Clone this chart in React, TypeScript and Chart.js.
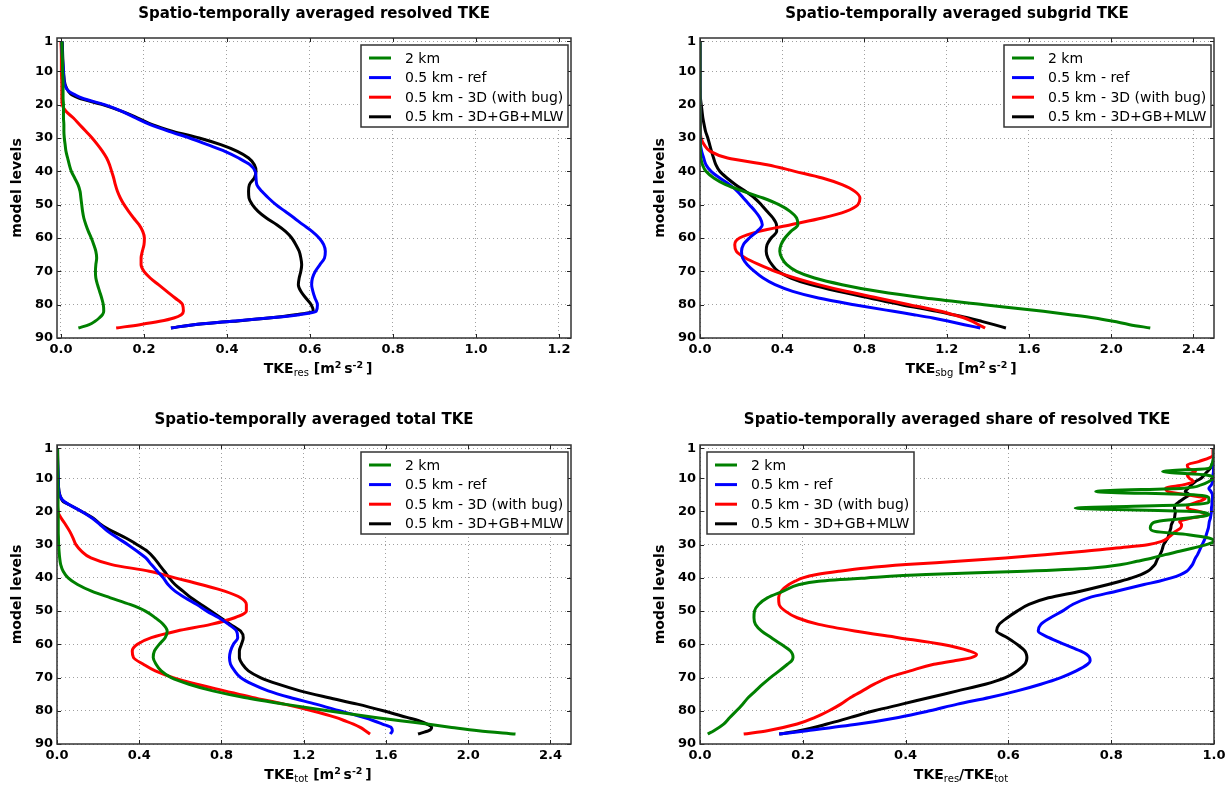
import React, { useEffect, useRef } from "react";
import { Chart, registerables } from "chart.js";

Chart.register(...registerables);

const FONT = '"DejaVu Sans", "Liberation Sans", sans-serif';

const SERIES_LABELS = ["2 km", "0.5 km - ref", "0.5 km - 3D (with bug)", "0.5 km - 3D+GB+MLW"];
const SERIES_COLORS = ["#008000", "#0000ff", "#ff0000", "#000000"];

const Y_TICKS = [1, 10, 20, 30, 40, 50, 60, 70, 80, 90];
const X_TICKS_RES = [0, 0.2, 0.4, 0.6, 0.8, 1.0, 1.2];
const X_TICKS_TKE = [0, 0.4, 0.8, 1.2, 1.6, 2.0, 2.4];
const X_TICKS_SHARE = [0, 0.2, 0.4, 0.6, 0.8, 1.0];

// model levels used for the three TKE panels
const LEVELS = [1, 5, 10, 14, 16, 17, 18, 20, 22, 24, 26, 28, 30, 32, 34, 36, 38, 40, 42, 44, 46, 48, 50, 52, 54, 56, 58, 60, 62, 64, 66, 68, 70, 72, 74, 76, 78, 80, 82, 83, 84, 85, 86, 87];

// resolved TKE
const RES_2KM = [0.002, 0.003, 0.004, 0.005, 0.005, 0.005, 0.005, 0.006, 0.006, 0.006, 0.007, 0.007, 0.008, 0.01, 0.012, 0.016, 0.02, 0.025, 0.033, 0.041, 0.046, 0.048, 0.05, 0.052, 0.055, 0.06, 0.066, 0.073, 0.079, 0.084, 0.086, 0.084, 0.083, 0.084, 0.088, 0.093, 0.098, 0.102, 0.103, 0.1, 0.092, 0.082, 0.068, 0.042];
const RES_REF = [0.002, 0.003, 0.006, 0.009, 0.019, 0.033, 0.05, 0.105, 0.147, 0.18, 0.215, 0.26, 0.31, 0.353, 0.395, 0.428, 0.455, 0.468, 0.47, 0.472, 0.484, 0.5, 0.518, 0.54, 0.562, 0.583, 0.605, 0.622, 0.633, 0.637, 0.635, 0.624, 0.613, 0.606, 0.604, 0.607, 0.612, 0.618, 0.615, 0.575, 0.5, 0.413, 0.32, 0.265];
const RES_3D = [0.0, 0.001, 0.001, 0.002, 0.002, 0.002, 0.002, 0.003, 0.012, 0.03, 0.045, 0.06, 0.075, 0.088, 0.1, 0.11, 0.117, 0.122, 0.127, 0.131, 0.136, 0.143, 0.152, 0.163, 0.175, 0.188, 0.197, 0.201, 0.2, 0.196, 0.193, 0.193, 0.2, 0.215, 0.235, 0.255, 0.275, 0.293, 0.295, 0.29, 0.272, 0.238, 0.19, 0.133];
const RES_GB = [0.003, 0.004, 0.006, 0.01, 0.018, 0.026, 0.043, 0.1, 0.147, 0.185, 0.22, 0.27, 0.333, 0.385, 0.425, 0.452, 0.466, 0.47, 0.466, 0.454, 0.452, 0.453, 0.461, 0.475, 0.495, 0.52, 0.541, 0.556, 0.566, 0.574, 0.578, 0.58, 0.578, 0.574, 0.572, 0.578, 0.59, 0.603, 0.608, 0.565, 0.5, 0.413, 0.32, 0.265];

// subgrid TKE
const SBG_2KM = [0, 0, 0, 0, 0, 0, 0, 0, 0, 0, 0, 0, 0, 0.001, 0.002, 0.004, 0.012, 0.029, 0.067, 0.125, 0.211, 0.307, 0.384, 0.438, 0.47, 0.476, 0.442, 0.413, 0.394, 0.388, 0.398, 0.422, 0.47, 0.557, 0.691, 0.864, 1.094, 1.382, 1.67, 1.8, 1.92, 2.01, 2.09, 2.19];
const SBG_REF = [0, 0, 0, 0, 0, 0, 0, 0, 0, 0, 0, 0, 0.001, 0.002, 0.008, 0.018, 0.029, 0.054, 0.096, 0.144, 0.182, 0.211, 0.24, 0.269, 0.292, 0.303, 0.278, 0.24, 0.211, 0.202, 0.207, 0.23, 0.265, 0.307, 0.365, 0.451, 0.576, 0.749, 0.941, 1.04, 1.133, 1.21, 1.286, 1.363];
const SBG_3D = [0, 0, 0, 0, 0, 0, 0, 0.001, 0.001, 0.001, 0.002, 0.002, 0.005, 0.02, 0.05, 0.134, 0.326, 0.461, 0.595, 0.691, 0.753, 0.778, 0.768, 0.71, 0.595, 0.442, 0.288, 0.192, 0.169, 0.177, 0.221, 0.288, 0.365, 0.461, 0.576, 0.71, 0.864, 1.018, 1.171, 1.23, 1.286, 1.325, 1.354, 1.387];
const SBG_GB = [0, 0, 0, 0, 0.001, 0.001, 0.002, 0.006, 0.01, 0.014, 0.02, 0.027, 0.038, 0.047, 0.056, 0.066, 0.077, 0.096, 0.131, 0.173, 0.221, 0.265, 0.298, 0.326, 0.355, 0.372, 0.373, 0.346, 0.326, 0.322, 0.33, 0.35, 0.38, 0.442, 0.538, 0.672, 0.826, 0.98, 1.152, 1.23, 1.306, 1.37, 1.43, 1.488];

// total TKE
const TOT_2KM = [0.002, 0.003, 0.004, 0.005, 0.005, 0.005, 0.005, 0.006, 0.006, 0.006, 0.006, 0.007, 0.008, 0.01, 0.013, 0.018, 0.03, 0.054, 0.1, 0.168, 0.26, 0.355, 0.43, 0.478, 0.517, 0.536, 0.526, 0.497, 0.474, 0.468, 0.482, 0.507, 0.555, 0.642, 0.758, 0.912, 1.105, 1.317, 1.548, 1.67, 1.8, 1.92, 2.05, 2.23];
const TOT_REF = [0.002, 0.003, 0.006, 0.009, 0.02, 0.035, 0.06, 0.12, 0.17, 0.21, 0.247, 0.295, 0.345, 0.39, 0.432, 0.459, 0.488, 0.517, 0.54, 0.574, 0.623, 0.68, 0.729, 0.787, 0.835, 0.873, 0.879, 0.858, 0.844, 0.839, 0.844, 0.864, 0.893, 0.95, 1.027, 1.134, 1.259, 1.374, 1.49, 1.54, 1.583, 1.625, 1.631, 1.621];
const TOT_3D = [0, 0.001, 0.001, 0.002, 0.002, 0.002, 0.002, 0.004, 0.02, 0.042, 0.062, 0.078, 0.092, 0.12, 0.165, 0.266, 0.449, 0.574, 0.7, 0.815, 0.893, 0.921, 0.921, 0.864, 0.748, 0.584, 0.459, 0.391, 0.366, 0.372, 0.42, 0.478, 0.565, 0.68, 0.815, 0.95, 1.105, 1.24, 1.355, 1.4, 1.442, 1.475, 1.5, 1.523];
const TOT_GB = [0.003, 0.004, 0.006, 0.01, 0.02, 0.03, 0.06, 0.12, 0.175, 0.215, 0.27, 0.335, 0.39, 0.44, 0.472, 0.497, 0.522, 0.546, 0.574, 0.613, 0.652, 0.7, 0.748, 0.796, 0.844, 0.893, 0.906, 0.897, 0.887, 0.887, 0.902, 0.931, 0.989, 1.076, 1.182, 1.317, 1.461, 1.587, 1.702, 1.76, 1.8, 1.822, 1.808, 1.756];

// share of resolved TKE (finer level sampling)
const SHARE_LEVELS = [1, 3, 5, 6, 7, 8, 9, 10, 11, 12, 13, 14, 15, 16, 17, 18, 19, 20, 21, 22, 23, 24, 25, 26, 27, 28, 29, 30, 31, 32, 33, 34, 35, 36, 37, 38, 39, 40, 41, 42, 44, 46, 48, 50, 52, 54, 56, 58, 60, 62, 63, 64, 65, 66, 68, 70, 72, 74, 76, 78, 80, 82, 84, 86, 87];
const SHARE_2KM = [1.0, 1.0, 0.998, 0.995, 0.99, 0.9, 0.985, 0.998, 0.99, 0.975, 0.94, 0.77, 0.96, 0.99, 0.99, 0.95, 0.73, 0.96, 0.99, 0.95, 0.89, 0.878, 0.876, 0.885, 0.95, 0.99, 1.0, 0.985, 0.96, 0.933, 0.905, 0.88, 0.85, 0.82, 0.763, 0.632, 0.44, 0.324, 0.231, 0.193, 0.162, 0.131, 0.114, 0.106, 0.105, 0.108, 0.12, 0.139, 0.158, 0.176, 0.18, 0.181, 0.178, 0.17, 0.154, 0.137, 0.122, 0.108, 0.094, 0.083, 0.071, 0.058, 0.046, 0.027, 0.015];
const SHARE_REF = [1.0, 1.0, 0.999, 0.999, 0.999, 0.999, 0.998, 0.998, 0.997, 0.995, 0.99, 0.994, 0.997, 0.997, 0.996, 0.996, 0.995, 0.995, 0.994, 0.993, 0.991, 0.99, 0.989, 0.987, 0.985, 0.983, 0.98, 0.977, 0.974, 0.971, 0.968, 0.964, 0.961, 0.958, 0.953, 0.947, 0.935, 0.917, 0.893, 0.864, 0.81, 0.756, 0.725, 0.705, 0.682, 0.663, 0.658, 0.679, 0.709, 0.74, 0.752, 0.758, 0.759, 0.754, 0.732, 0.702, 0.663, 0.617, 0.563, 0.501, 0.447, 0.386, 0.308, 0.208, 0.154];
const SHARE_3D = [0.998, 0.998, 0.97, 0.948, 0.95, 0.964, 0.948, 0.952, 0.96, 0.94, 0.906, 0.91, 0.948, 0.983, 0.971, 0.952, 0.948, 0.971, 0.987, 0.956, 0.933, 0.937, 0.935, 0.925, 0.918, 0.91, 0.898, 0.871, 0.81, 0.748, 0.671, 0.594, 0.501, 0.401, 0.324, 0.27, 0.227, 0.2, 0.185, 0.173, 0.158, 0.153, 0.154, 0.166, 0.189, 0.231, 0.301, 0.386, 0.47, 0.524, 0.538, 0.528, 0.493, 0.455, 0.409, 0.366, 0.339, 0.316, 0.293, 0.274, 0.251, 0.224, 0.189, 0.131, 0.085];
const SHARE_GB = [1.0, 0.999, 0.998, 0.996, 0.993, 0.987, 0.981, 0.975, 0.964, 0.956, 0.95, 0.944, 0.952, 0.942, 0.933, 0.925, 0.923, 0.925, 0.924, 0.923, 0.92, 0.917, 0.916, 0.914, 0.912, 0.91, 0.906, 0.902, 0.9, 0.898, 0.895, 0.891, 0.888, 0.885, 0.879, 0.871, 0.858, 0.84, 0.818, 0.794, 0.74, 0.678, 0.64, 0.617, 0.598, 0.582, 0.577, 0.598, 0.617, 0.632, 0.635, 0.636, 0.635, 0.632, 0.617, 0.594, 0.555, 0.501, 0.447, 0.393, 0.339, 0.293, 0.247, 0.193, 0.154];

type Part = { t: string; s: number; b: boolean; dy: number };

type Panel = {
  title: string;
  levels: number[];
  series: number[][];
  xMin: number;
  xMax: number;
  xTicks: number[];
  xTitle: Part[];
  legendSide: "left" | "right";
  box: { left: number; top: number; width: number; height: number };
  pad: { left: number; right: number; top: number; bottom: number };
  titlePad: { top: number; bottom: number };
};

const P = (t: string, s: number, b: boolean, dy = 0): Part => ({ t, s, b, dy });
const unitParts = (sub: string): Part[] => [
  P("TKE", 14, true),
  P(sub, 10, false, 3),
  P(" [m", 14, true),
  P("2", 9.5, true, -5),
  P("\u2009s", 14, true),
  P("-2", 9.5, true, -5),
  P("\u2009]", 14, true),
];

const PANELS: Panel[] = [
  {
    title: "Spatio-temporally averaged resolved TKE",
    levels: LEVELS,
    series: [RES_2KM, RES_REF, RES_3D, RES_GB],
    xMin: -0.0096,
    xMax: 1.229,
    xTicks: X_TICKS_RES,
    xTitle: unitParts("res"),
    legendSide: "right",
    box: { left: 0, top: 0, width: 614, height: 392 },
    pad: { left: 0, right: 43, top: 0, bottom: 13 },
    titlePad: { top: 5, bottom: 15 },
  },
  {
    title: "Spatio-temporally averaged subgrid TKE",
    levels: LEVELS,
    series: [SBG_2KM, SBG_REF, SBG_3D, SBG_GB],
    xMin: 0,
    xMax: 2.5,
    xTicks: X_TICKS_TKE,
    xTitle: unitParts("sbg"),
    legendSide: "right",
    box: { left: 614, top: 0, width: 615, height: 392 },
    pad: { left: 29, right: 15, top: 0, bottom: 13 },
    titlePad: { top: 5, bottom: 15 },
  },
  {
    title: "Spatio-temporally averaged total TKE",
    levels: LEVELS,
    series: [TOT_2KM, TOT_REF, TOT_3D, TOT_GB],
    xMin: 0,
    xMax: 2.5,
    xTicks: X_TICKS_TKE,
    xTitle: unitParts("tot"),
    legendSide: "right",
    box: { left: 0, top: 392, width: 614, height: 393 },
    pad: { left: 0, right: 43, top: 0, bottom: 0 },
    titlePad: { top: 19, bottom: 16 },
  },
  {
    title: "Spatio-temporally averaged share of resolved TKE",
    levels: SHARE_LEVELS,
    series: [SHARE_2KM, SHARE_REF, SHARE_3D, SHARE_GB],
    xMin: 0,
    xMax: 1.0,
    xTicks: X_TICKS_SHARE,
    xTitle: [P("TKE", 14, true), P("res", 10, false, 3), P("/TKE", 14, true), P("tot", 10, false, 3)],
    legendSide: "left",
    box: { left: 614, top: 392, width: 615, height: 393 },
    pad: { left: 29, right: 15, top: 0, bottom: 0 },
    titlePad: { top: 19, bottom: 16 },
  },
];

const decorPlugin = {
  id: "decor",
  afterDraw(chart: any, _args: any, opts: any) {
    const { ctx, chartArea: ca } = chart;
    const xs = chart.scales.x;
    const ys = chart.scales.y;
    ctx.save();

    // inward tick marks on all four sides
    ctx.strokeStyle = "#222";
    ctx.lineWidth = 1;
    ctx.beginPath();
    for (const t of xs.ticks) {
      const px = Math.round(xs.getPixelForValue(t.value)) + 0.5;
      ctx.moveTo(px, ca.bottom);
      ctx.lineTo(px, ca.bottom - 4);
      ctx.moveTo(px, ca.top);
      ctx.lineTo(px, ca.top + 4);
    }
    for (const t of ys.ticks) {
      const py = Math.round(ys.getPixelForValue(t.value)) + 0.5;
      ctx.moveTo(ca.left, py);
      ctx.lineTo(ca.left + 4, py);
      ctx.moveTo(ca.right, py);
      ctx.lineTo(ca.right - 4, py);
    }
    ctx.stroke();

    // axes frame
    ctx.strokeStyle = "#333";
    ctx.lineWidth = 1.5;
    ctx.strokeRect(ca.left, ca.top, ca.right - ca.left, ca.bottom - ca.top);

    // x-axis title with sub/superscripts
    const parts: Part[] = opts.xTitle || [];
    const fontOf = (p: Part) => `${p.b ? "bold " : ""}${p.s}px ${FONT}`;
    let total = 0;
    for (const p of parts) {
      ctx.font = fontOf(p);
      total += ctx.measureText(p.t).width;
    }
    let x = (ca.left + ca.right) / 2 - total / 2 + 4;
    const baseY = ca.bottom + 35;
    ctx.fillStyle = "#000";
    ctx.textBaseline = "alphabetic";
    ctx.textAlign = "left";
    for (const p of parts) {
      ctx.font = fontOf(p);
      ctx.fillText(p.t, x, baseY + p.dy);
      x += ctx.measureText(p.t).width;
    }

    // legend
    const datasets = chart.data.datasets;
    ctx.font = `14px ${FONT}`;
    let maxW = 0;
    for (const d of datasets) maxW = Math.max(maxW, ctx.measureText(d.label).width);
    const boxW = Math.round(44 + maxW + 5);
    const boxH = 82;
    const x0 = opts.legendSide === "left" ? ca.left + 7 : ca.right - 3 - boxW;
    const y0 = ca.top + 7;
    ctx.fillStyle = "#fff";
    ctx.fillRect(x0, y0, boxW, boxH);
    ctx.strokeStyle = "#333";
    ctx.lineWidth = 1.5;
    ctx.strokeRect(x0, y0, boxW, boxH);
    datasets.forEach((d: any, i: number) => {
      const yy = y0 + 13 + i * 19.6;
      ctx.strokeStyle = d.borderColor;
      ctx.lineWidth = 3;
      ctx.beginPath();
      ctx.moveTo(x0 + 8, yy);
      ctx.lineTo(x0 + 30, yy);
      ctx.stroke();
      ctx.fillStyle = "#000";
      ctx.textBaseline = "middle";
      ctx.fillText(d.label, x0 + 44, yy + 1);
    });

    ctx.restore();
  },
};

function PanelChart({ panel }: { panel: Panel }) {
  const ref = useRef<HTMLCanvasElement | null>(null);

  useEffect(() => {
    const canvas = ref.current;
    if (!canvas) return;
    const gridOpts = { color: "#a0a0a0", lineWidth: 1, drawTicks: false, borderDash: [1, 3] };
    const borderOpts = { display: false, dash: [1, 3] };
    const tickFont = { family: FONT, size: 13, weight: "bold" as const };

    const chart = new Chart(canvas, {
      type: "scatter",
      data: {
        datasets: panel.series.map((vals, i) => ({
          label: SERIES_LABELS[i],
          data: panel.levels.map((lev, j) => ({ x: vals[j], y: lev })),
          showLine: true,
          indexAxis: "y",
          borderColor: SERIES_COLORS[i],
          backgroundColor: SERIES_COLORS[i],
          borderWidth: 3,
          pointRadius: 0,
          pointHoverRadius: 0,
          cubicInterpolationMode: "monotone",
          fill: false,
        })) as any,
      },
      options: {
        indexAxis: "y",
        animation: false,
        responsive: false,
        maintainAspectRatio: false,
        events: [],
        layout: { padding: panel.pad },
        plugins: {
          legend: { display: false },
          tooltip: { enabled: false },
          title: {
            display: true,
            text: panel.title,
            fullSize: false,
            color: "#000",
            font: { family: FONT, size: 15, weight: "bold" },
            padding: panel.titlePad,
          },
          decor: { xTitle: panel.xTitle, legendSide: panel.legendSide },
        } as any,
        scales: {
          x: {
            type: "linear",
            position: "bottom",
            min: panel.xMin,
            max: panel.xMax,
            afterBuildTicks: (s: any) => {
              s.ticks = panel.xTicks.map((v) => ({ value: v }));
            },
            afterFit: (s: any) => {
              s.height = 41;
              s.paddingLeft = 0;
              s.paddingRight = 0;
            },
            ticks: {
              color: "#000",
              font: tickFont,
              padding: 4,
              autoSkip: false,
              maxRotation: 0,
              callback: (v: any) => Number(v).toFixed(1),
            },
            grid: gridOpts as any,
            border: borderOpts as any,
          },
          y: {
            type: "linear",
            position: "left",
            min: 0,
            max: 90,
            reverse: true,
            afterBuildTicks: (s: any) => {
              s.ticks = Y_TICKS.map((v) => ({ value: v }));
            },
            afterFit: (s: any) => {
              s.width = 57;
              s.paddingTop = 0;
              s.paddingBottom = 0;
            },
            ticks: {
              color: "#000",
              font: tickFont,
              padding: 4,
              autoSkip: false,
              callback: (v: any) => String(v),
            },
            grid: gridOpts as any,
            border: borderOpts as any,
            title: {
              display: true,
              text: "model levels",
              color: "#000",
              font: { family: FONT, size: 14, weight: "bold" },
              padding: { top: 9, bottom: 0 },
            },
          },
        },
      } as any,
      plugins: [decorPlugin as any],
    });

    return () => chart.destroy();
  }, [panel]);

  return (
    <canvas
      ref={ref}
      width={panel.box.width}
      height={panel.box.height}
      style={{
        position: "absolute",
        left: panel.box.left,
        top: panel.box.top,
        width: panel.box.width,
        height: panel.box.height,
        display: "block",
      }}
    />
  );
}

export default function App() {
  return (
    <div
      style={{
        position: "fixed",
        left: 0,
        top: 0,
        width: 1229,
        height: 785,
        overflow: "hidden",
        background: "#fff",
      }}
    >
      {PANELS.map((p, i) => (
        <PanelChart key={i} panel={p} />
      ))}
    </div>
  );
}
